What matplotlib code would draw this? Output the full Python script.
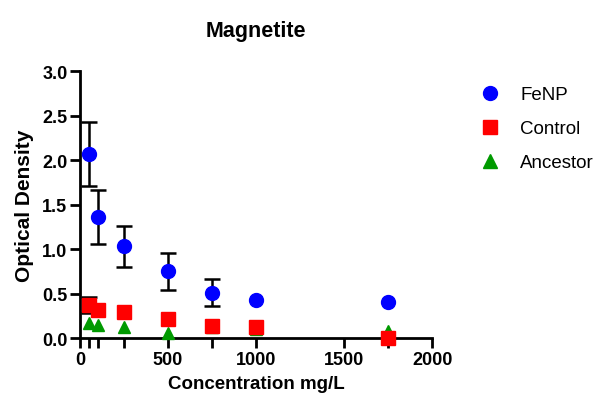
import matplotlib
matplotlib.use("Agg")
import matplotlib.pyplot as plt
from matplotlib.lines import Line2D

plt.rcParams['font.family'] = ['Liberation Sans', 'DejaVu Sans']

nan = float('nan')

# concentrations (mg/L)
conc = [50, 100, 250, 500, 750, 1000, 1750]

# optical density readings (nan = no visible error bar)
fenp = [2.07, 1.36, 1.03, 0.75, 0.51, 0.43, 0.41]
fenp_err = [0.36, 0.30, 0.23, 0.21, 0.15, nan, nan]
control = [0.37, 0.32, 0.29, 0.21, 0.14, 0.12, 0.0]
control_err = [0.09, nan, nan, nan, nan, nan, nan]
ancestor = [0.17, 0.15, 0.13, 0.06, 0.12, 0.10, 0.08]

xticks_major = [0, 500, 1000, 1500, 2000]
xticks_minor = [50, 100, 250, 750, 1750]
yticks = [0.0, 0.5, 1.0, 1.5, 2.0, 2.5, 3.0]

blue = '#0000ff'
red = '#ff0000'
green = '#009a00'


def main():
    fig = plt.figure(figsize=(5.97, 4.10), dpi=100)
    ax = fig.add_axes([0.134, 0.173, 0.590, 0.651])

    ax.errorbar(conc, ancestor, fmt='^', color=green, markersize=9,
                clip_on=False, zorder=3)
    ax.errorbar(conc, control, yerr=control_err, fmt='s', color=red,
                ecolor='black', elinewidth=1.8, capsize=6, capthick=1.8,
                markersize=9.5, clip_on=False, zorder=4)
    ax.errorbar(conc, fenp, yerr=fenp_err, fmt='o', color=blue,
                ecolor='black', elinewidth=1.8, capsize=6, capthick=1.8,
                markersize=10, clip_on=False, zorder=5)

    ax.set_xlim(0, 2000)
    ax.set_ylim(0, 3.0)
    ax.set_xticks(xticks_major)
    ax.set_xticks(xticks_minor, minor=True)
    ax.set_yticks(yticks)
    ax.set_yticklabels(['%.1f' % v for v in yticks])

    for s in ['top', 'right']:
        ax.spines[s].set_visible(False)
    for s in ['left', 'bottom']:
        ax.spines[s].set_linewidth(2)
    ax.tick_params(which='both', width=2, length=7, labelsize=13, pad=2)
    for lab in ax.get_xticklabels() + ax.get_yticklabels():
        lab.set_fontweight('bold')

    ax.set_xlabel('Concentration mg/L', fontsize=13.5, fontweight='bold', labelpad=5)
    ax.set_ylabel('Optical Density', fontsize=15, fontweight='bold', labelpad=6)
    ax.set_title('Magnetite', fontsize=15.5, fontweight='bold', pad=25)

    handles = [
        Line2D([], [], ls='', marker='o', color=blue, markersize=10),
        Line2D([], [], ls='', marker='s', color=red, markersize=9.5),
        Line2D([], [], ls='', marker='^', color=green, markersize=9.5),
    ]
    labels = ['FeNP', 'Control', 'Ancestor']
    fig.legend(handles, labels, loc='upper left', bbox_to_anchor=(0.79, 0.81),
               frameon=False, fontsize=13.5, handletextpad=1.1,
               labelspacing=0.9, handlelength=1.0, borderpad=0)

    fig.savefig('out.png', dpi=100)


if __name__ == '__main__':
    main()
